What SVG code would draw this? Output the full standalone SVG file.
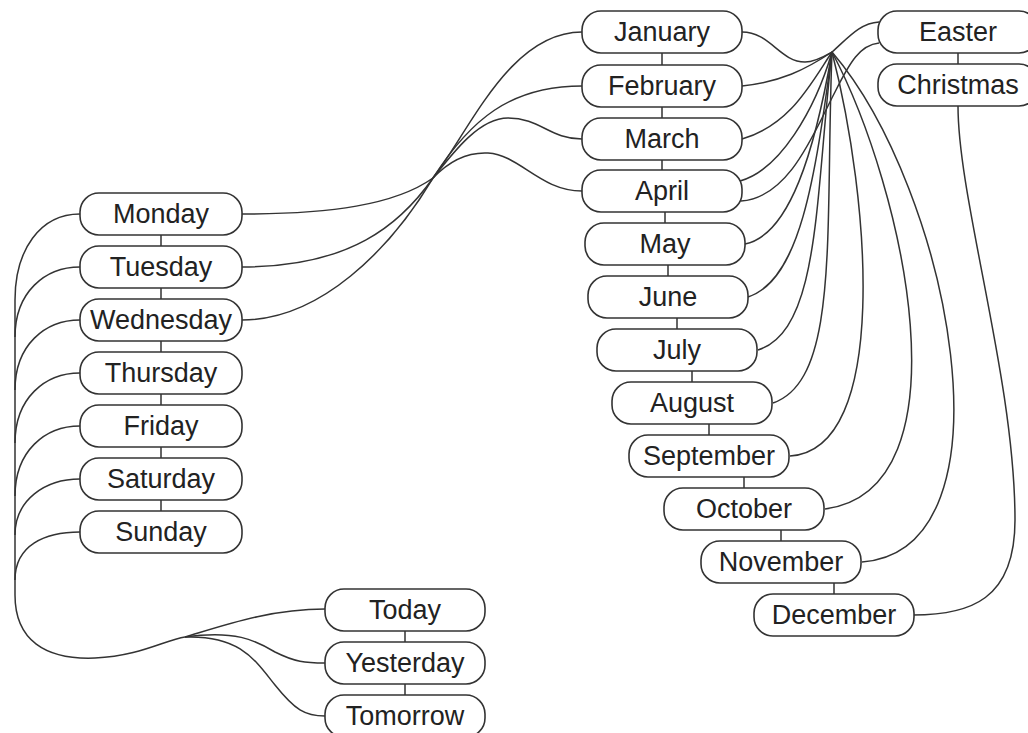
<svg xmlns="http://www.w3.org/2000/svg" width="1028" height="733" viewBox="0 0 1028 733">
<style>
.box{fill:#fff;stroke:#333;stroke-width:1.6}
.lbl{font-family:"Liberation Sans",Arial,sans-serif;font-size:27px;fill:#222;text-anchor:middle}
.c{fill:none;stroke:#333;stroke-width:1.5}
</style>
<rect width="1028" height="733" fill="#fff"/>
<g id="connectors" class="c">
<path d="M161,235V246M161,288V299M161,341V352M161,394V405M161,447V458M161,500V511"/>
<path d="M405,631V642M405,684V695"/>
<path d="M662,53V65M662,107V118M662,160V170M665,212V223M668,265V276M677,318V329M692,371V382M709,424V435M744,477V488M781,530V541M834,583V594"/>
<path d="M958,53V64"/>
<path d="M80,214C40,214 15,250 15,300L15,595C15,640 45,660 95,658C140,656 165,640 185,637"/>
<path d="M80,267C45,267 15,292 15,337"/>
<path d="M80,320C45,320 15,345 15,390"/>
<path d="M80,373C45,373 15,398 15,443"/>
<path d="M80,426C45,426 15,451 15,496"/>
<path d="M80,479C45,479 15,500 15,535"/>
<path d="M80,532C45,532 15,545 15,580"/>
<path d="M185,637C225,625 270,609 325,609"/>
<path d="M185,637C235,630 255,640 275,652C295,662 305,663 325,663"/>
<path d="M185,637C240,635 255,660 275,685C295,710 305,716 325,716"/>
<path d="M242,214C330,214 395,205 433,178"/>
<path d="M242,267C350,267 400,225 433,178"/>
<path d="M242,320C320,320 390,250 433,178"/>
<path d="M433,178C470,130 510,32 582,32"/>
<path d="M433,178C470,120 510,86 582,86"/>
<path d="M433,178C455,150 480,118 508,118C540,118 550,139 582,139"/>
<path d="M433,178C450,160 468,152 488,153C520,155 540,191 582,191"/>
<path d="M742,32C770,32 780,62 805,62C815,62 825,56 832,52"/>
<path d="M742,86C780,82 805,70 832,52"/>
<path d="M742,139C790,125 810,85 832,52"/>
<path d="M740,181C780,170 815,110 832,52"/>
<path d="M832,52C848,38 860,23 879,22"/>
<path d="M741,201C790,198 815,130 835,92C850,62 860,45 879,43"/>
<path d="M832,52C815,150 790,235 745,244"/>
<path d="M832,52C815,180 800,280 748,297"/>
<path d="M832,52C815,200 820,330 758,350"/>
<path d="M832,52C825,230 840,380 773,403"/>
<path d="M832,52C870,200 890,450 790,456"/>
<path d="M832,52C905,190 970,490 825,509"/>
<path d="M832,52C950,190 1020,550 862,562"/>
<path d="M958,106C958,200 1015,380 1015,520C1015,600 970,615 913,615"/>
</g>
<g id="monday"><rect class="box" x="80" y="193" width="162" height="42" rx="19"/><text class="lbl" x="161" y="223">Monday</text></g>
<g id="tuesday"><rect class="box" x="80" y="246" width="162" height="42" rx="19"/><text class="lbl" x="161" y="276">Tuesday</text></g>
<g id="wednesday"><rect class="box" x="80" y="299" width="162" height="42" rx="19"/><text class="lbl" x="161" y="329">Wednesday</text></g>
<g id="thursday"><rect class="box" x="80" y="352" width="162" height="42" rx="19"/><text class="lbl" x="161" y="382">Thursday</text></g>
<g id="friday"><rect class="box" x="80" y="405" width="162" height="42" rx="19"/><text class="lbl" x="161" y="435">Friday</text></g>
<g id="saturday"><rect class="box" x="80" y="458" width="162" height="42" rx="19"/><text class="lbl" x="161" y="488">Saturday</text></g>
<g id="sunday"><rect class="box" x="80" y="511" width="162" height="42" rx="19"/><text class="lbl" x="161" y="541">Sunday</text></g>
<g id="today"><rect class="box" x="325" y="589" width="160" height="42" rx="19"/><text class="lbl" x="405" y="619">Today</text></g>
<g id="yesterday"><rect class="box" x="325" y="642" width="160" height="42" rx="19"/><text class="lbl" x="405" y="672">Yesterday</text></g>
<g id="tomorrow"><rect class="box" x="325" y="695" width="160" height="42" rx="19"/><text class="lbl" x="405" y="725">Tomorrow</text></g>
<g id="january"><rect class="box" x="582" y="11" width="160" height="42" rx="19"/><text class="lbl" x="662" y="41">January</text></g>
<g id="february"><rect class="box" x="582" y="65" width="160" height="42" rx="19"/><text class="lbl" x="662" y="95">February</text></g>
<g id="march"><rect class="box" x="582" y="118" width="160" height="42" rx="19"/><text class="lbl" x="662" y="148">March</text></g>
<g id="april"><rect class="box" x="582" y="170" width="160" height="42" rx="19"/><text class="lbl" x="662" y="200">April</text></g>
<g id="may"><rect class="box" x="585" y="223" width="160" height="42" rx="19"/><text class="lbl" x="665" y="253">May</text></g>
<g id="june"><rect class="box" x="588" y="276" width="160" height="42" rx="19"/><text class="lbl" x="668" y="306">June</text></g>
<g id="july"><rect class="box" x="597" y="329" width="160" height="42" rx="19"/><text class="lbl" x="677" y="359">July</text></g>
<g id="august"><rect class="box" x="612" y="382" width="160" height="42" rx="19"/><text class="lbl" x="692" y="412">August</text></g>
<g id="september"><rect class="box" x="629" y="435" width="160" height="42" rx="19"/><text class="lbl" x="709" y="465">September</text></g>
<g id="october"><rect class="box" x="664" y="488" width="160" height="42" rx="19"/><text class="lbl" x="744" y="518">October</text></g>
<g id="november"><rect class="box" x="701" y="541" width="160" height="42" rx="19"/><text class="lbl" x="781" y="571">November</text></g>
<g id="december"><rect class="box" x="754" y="594" width="160" height="42" rx="19"/><text class="lbl" x="834" y="624">December</text></g>
<g id="easter"><rect class="box" x="878" y="11" width="160" height="42" rx="19"/><text class="lbl" x="958" y="41">Easter</text></g>
<g id="christmas"><rect class="box" x="878" y="64" width="160" height="42" rx="19"/><text class="lbl" x="958" y="94">Christmas</text></g>
</svg>
